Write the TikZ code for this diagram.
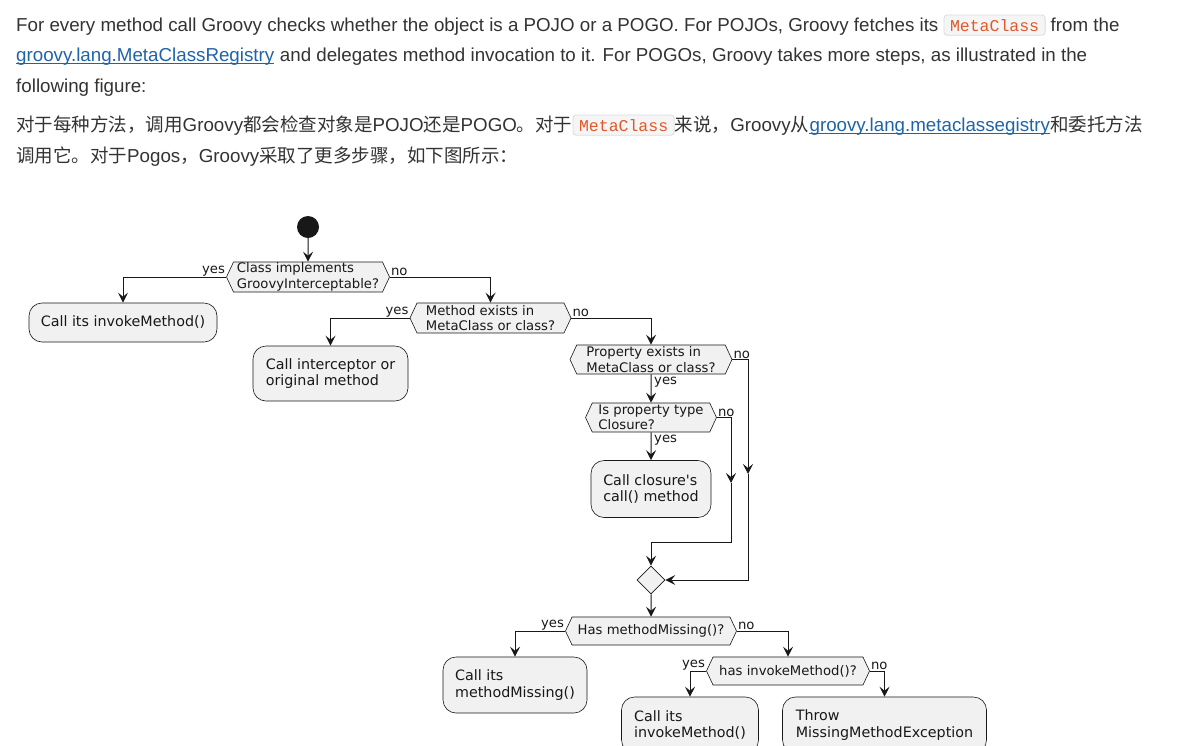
\documentclass[tikz,border=0pt]{standalone}
\usepackage{fontspec}
\setmainfont{Liberation Sans}
\newfontfamily\cjk{Noto Sans CJK SC}
\newfontfamily\dvs{DejaVu Sans}
\newfontfamily\codefont{Liberation Mono}
\usetikzlibrary{arrows.meta}
\usetikzlibrary{shapes.symbols,shapes.geometric,positioning}
\definecolor{ink}{HTML}{333333}
\definecolor{linkblue}{HTML}{1F64A8}
\definecolor{codered}{HTML}{E2582A}
\definecolor{codebg}{HTML}{F5F5F5}
\definecolor{codeline}{HTML}{DCDCDC}
\definecolor{umlfill}{HTML}{F1F1F1}
\definecolor{umlline}{HTML}{181818}
\newcommand\zh[1]{{\cjk\fontsize{18.5}{22}\selectfont #1}}
\tikzset{>={Stealth[length=10pt,width=10pt,inset=4pt]}}
\tikzset{
  para/.style={anchor=base west,inner sep=0pt,text=ink,font=\fontsize{18.75}{22}\selectfont},
  code/.style={anchor=base west,draw=codeline,fill=codebg,rounded corners=3pt,text=codered,
    font=\codefont\fontsize{16.5}{19}\selectfont,inner xsep=6pt,inner ysep=4pt,line width=0.8pt},
  act/.style={draw=umlline,fill=umlfill,line width=0.6pt,rounded corners=13pt,align=left,
    text=umlline,font=\dvs\fontsize{14.3}{16.5}\selectfont,inner sep=0pt},
  dec/.style={signal,signal to=west and east,signal pointer angle=130,draw=umlline,fill=umlfill,
    line width=0.6pt,align=left,text=umlline,font=\dvs\fontsize{13.2}{15.5}\selectfont,inner sep=0pt},
  lbl/.style={font=\dvs\fontsize{13.2}{15}\selectfont,text=umlline,inner sep=1pt},
  flow/.style={->,draw=umlline,line width=1pt},
}

\begin{document}
\begin{tikzpicture}[x=1pt,y=-1pt]
    \useasboundingbox (0,0) rectangle (1182,745);
    \fill[white] (0,0) rectangle (1182,745);
    \clip (0,0) rectangle (1182,745);

    % text above the figure
    \node[para] (l1a) at (16,31) {For every method call Groovy checks whether the object is a POJO or a POGO. For POJOs, Groovy fetches its};
    \node[code] (mc1) at ([xshift=5]l1a.base east) {MetaClass};
    \node[para] (l1b) at ([xshift=5]mc1.base east) {from the};
    \node[para,text=linkblue] (lk1) at (16,61) {groovy.lang.MetaClassRegistry};
    \node[para] (l2b) at (lk1.base east) {\ and delegates method invocation to it. For POGOs, Groovy takes more steps, as illustrated in the};
    \node[para] (l3) at (16,92) {following figure:};
    \node[para] (l4a) at (16,131) {\zh{对于每种方法，调用}Groovy\zh{都会检查对象是}POJO\zh{还是}POGO\zh{。对于}};
    \node[code] (mc2) at (l4a.base east) {MetaClass};
    \node[para] (l4b) at (mc2.base east) {\zh{来说，}Groovy\zh{从}};
    \node[para,text=linkblue] (lk2) at (l4b.base east) {groovy.lang.metaclassegistry};
    \node[para] (l4c) at (lk2.base east) {\zh{和委托方法}};
    \node[para] (l5) at (16,162) {\zh{调用它。对于}Pogos\zh{，}Groovy\zh{采取了更多步骤，如下图所示：}};
    \draw[linkblue,line width=0.9pt] ([yshift=-2.5]lk1.base west) -- ([yshift=-2.5]lk1.base east);
    \draw[linkblue,line width=0.9pt] ([yshift=-2.5]lk2.base west) -- ([yshift=-2.5]lk2.base east);

    % activity diagram
    \node[circle,fill=umlline,minimum size=22,inner sep=0pt] (start) at (308,227) {};
    \node[dec,minimum width=163,minimum height=30] (h1) at (308,277) {Class implements\\GroovyInterceptable?};
    \node[act,minimum width=188,minimum height=39] (a1) at (123,322.5) {Call its invokeMethod()};
    \node[dec,minimum width=161,minimum height=30] (h2) at (490.5,318) {Method exists in\\MetaClass or class?};
    \node[act,minimum width=155,minimum height=55] (a2) at (330.5,373.5) {Call interceptor or\\original method};
    \node[dec,minimum width=162,minimum height=29] (h3) at (651,359.5) {Property exists in\\MetaClass or class?};
    \node[dec,minimum width=131,minimum height=29] (h4) at (651,417.5) {Is property type\\Closure?};
    \node[act,minimum width=120,minimum height=57] (a3) at (651,489) {Call closure's\\call() method};
    \node[diamond,draw=umlline,fill=umlfill,line width=0.6pt,minimum width=28,minimum height=28,inner sep=0pt] (m) at (651,580) {};
    \node[dec,minimum width=171,minimum height=28] (h5) at (651,631) {Has methodMissing()?};
    \node[act,minimum width=144,minimum height=56] (a4) at (515,685) {Call its\\methodMissing()};
    \node[dec,minimum width=163,minimum height=28] (h6) at (788,671) {has invokeMethod()?};
    \node[act,minimum width=137,minimum height=56] (a5) at (690,725) {Call its\\invokeMethod()};
    \node[act,minimum width=204,minimum height=56] (a6) at (884.5,725) {Throw\\MissingMethodException};

    \coordinate (r1) at (748,474);
    \coordinate (r2) at (731,483);
    \coordinate (r2b) at (731,542);

    \draw[flow] (start) -- (h1);
    \draw[flow] (h1.west) -| (a1.north);
    \draw[flow] (h1.east) -| (h2.north);
    \draw[flow] (h2.west) -| (a2.north);
    \draw[flow] (h2.east) -| (h3.north);
    \draw[flow] (h3) -- (h4);
    \draw[flow] (h4) -- (a3);
    \draw[flow] (h3.east) -| (r1);
    \draw[flow] (r1) |- (m.east);
    \draw[flow] (h4.east) -| (r2);
    \draw[flow] (r2) -- (r2b) -| (m.north);
    \draw[flow] (m) -- (h5);
    \draw[flow] (h5.west) -| (a4.north);
    \draw[flow] (h5.east) -| (h6.north);
    \draw[flow] (h6.west) -| (a5.north);
    \draw[flow] (h6.east) -| (a6.north);

    \node[lbl,anchor=south east] at (h1.west) {yes};
    \node[lbl,anchor=south west] at (h1.east) {no};
    \node[lbl,anchor=south east] at (h2.west) {yes};
    \node[lbl,anchor=south west] at (h2.east) {no};
    \node[lbl,anchor=south west] at (h3.east) {no};
    \node[lbl,anchor=north west] at ([xshift=2,yshift=-2]h3.south) {yes};
    \node[lbl,anchor=south west] at (h4.east) {no};
    \node[lbl,anchor=north west] at ([xshift=2,yshift=-2]h4.south) {yes};
    \node[lbl,anchor=south east] at (h5.west) {yes};
    \node[lbl,anchor=south west] at (h5.east) {no};
    \node[lbl,anchor=south east] at (h6.west) {yes};
    \node[lbl,anchor=south west] at (h6.east) {no};
\end{tikzpicture}
\end{document}
